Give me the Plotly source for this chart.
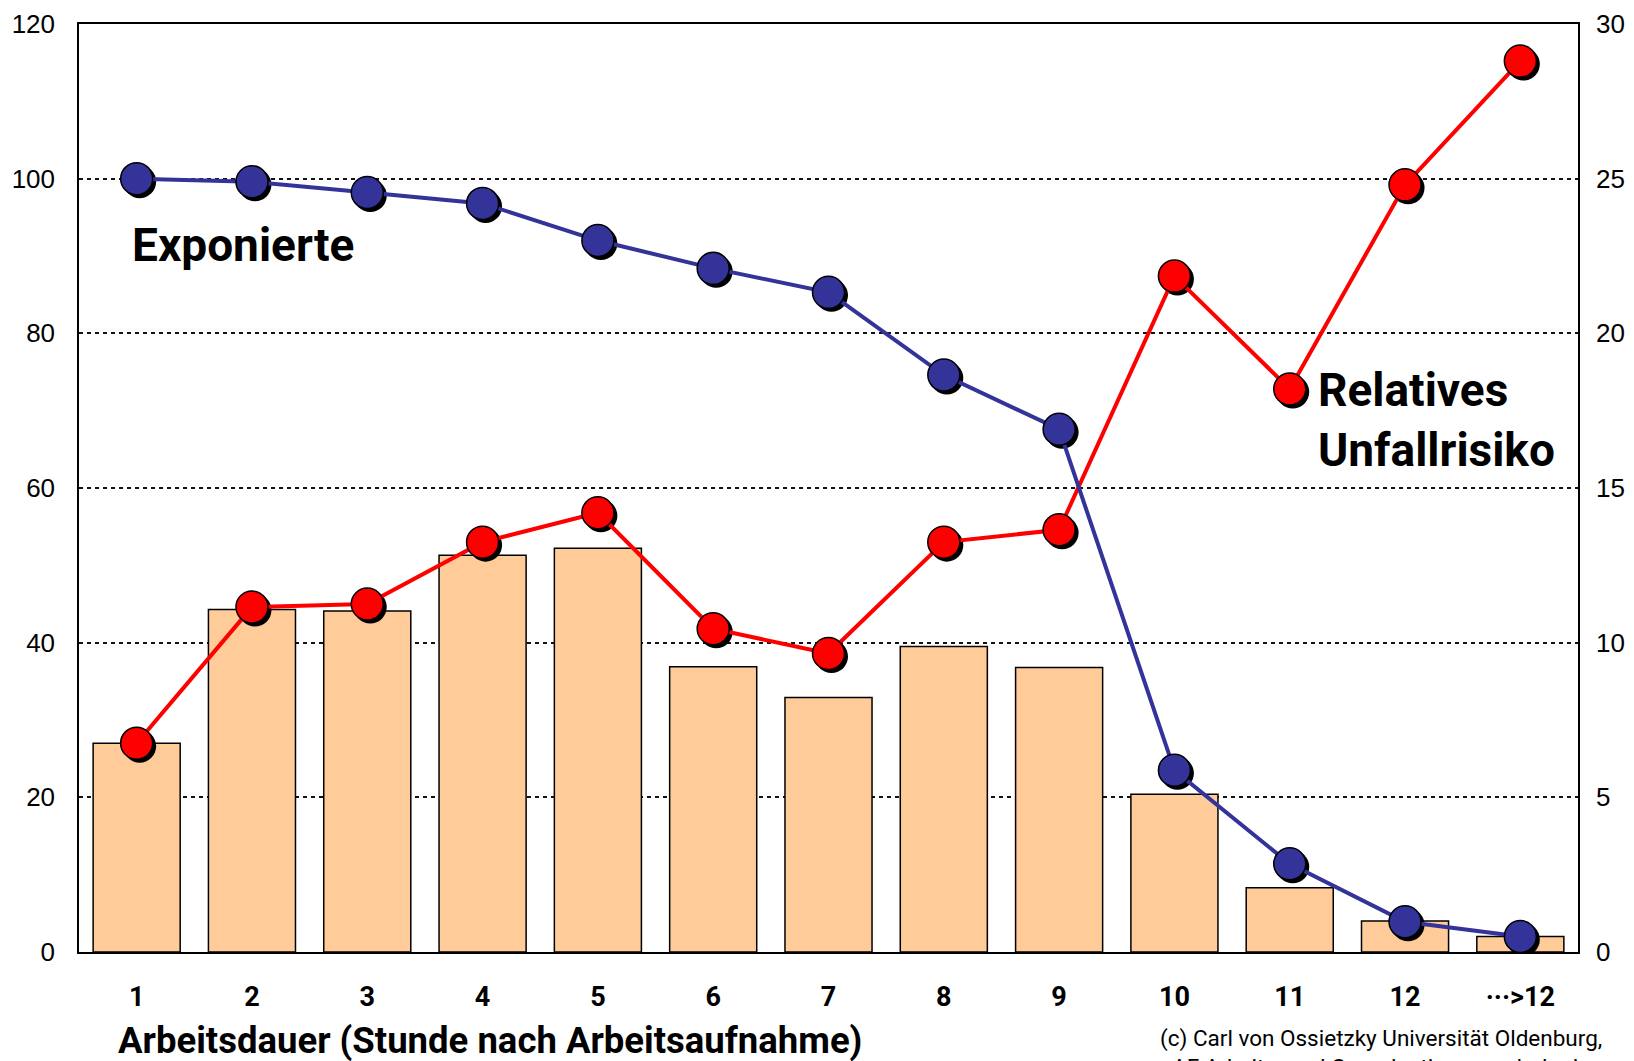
import plotly.graph_objects as go

# ---- data ----
hours = ["1", "2", "3", "4", "5", "6", "7", "8", "9", "10", "11", "12", "···>12"]
bar_values = [27.0, 44.3, 44.1, 51.3, 52.2, 36.9, 32.9, 39.5, 36.8, 20.4, 8.3, 4.0, 2.0]
exponierte = [100.0, 99.6, 98.2, 96.8, 92.0, 88.4, 85.3, 74.6, 67.6, 23.5, 11.4, 3.9, 2.0]
unfallrisiko = [6.75, 11.15, 11.25, 13.25, 14.2, 10.45, 9.65, 13.25, 13.65, 21.85, 18.2, 24.8, 28.8]

left_ticks = [0, 20, 40, 60, 80, 100, 120]
right_ticks = [0, 5, 10, 15, 20, 25, 30]

# ---- layout constants ----
OFF = 8                      # default page body margin around the figure
W, H = 1634 - OFF, 1061 - OFF
ML, MR, MT, MB = 79 - OFF, 56, 24 - OFF, 109
PW = W - ML - MR
PH = H - MT - MB
n = len(hours)
px_per_cat = PW / n
shadow_dx, shadow_dy = 3, 3

BLUE = "#333399"
RED = "#FF0000"
BAR = "#FFCC99"
TICKFONT = dict(family="Liberation Sans, Arial, sans-serif", size=26, color="black")
BOLD = "Roboto, Noto Sans, sans-serif"

fig = go.Figure()

# bars (left axis)
fig.add_trace(go.Bar(x=hours, y=bar_values, marker=dict(color=BAR, line=dict(color="black", width=1.5)),
                     xaxis="x", yaxis="y", showlegend=False, hoverinfo="skip"))

# shadows of markers (shifted hidden axes)
fig.add_trace(go.Scatter(x=hours, y=exponierte, mode="markers",
                         marker=dict(size=33, color="black"),
                         xaxis="x2", yaxis="y3", showlegend=False, hoverinfo="skip"))
fig.add_trace(go.Scatter(x=hours, y=unfallrisiko, mode="markers",
                         marker=dict(size=33, color="black"),
                         xaxis="x2", yaxis="y4", showlegend=False, hoverinfo="skip"))

# main lines
fig.add_trace(go.Scatter(x=hours, y=exponierte, mode="lines+markers", name="Exponierte",
                         line=dict(color=BLUE, width=4),
                         marker=dict(size=32, color=BLUE, line=dict(color="black", width=1.5)),
                         xaxis="x3", yaxis="y5", showlegend=False))
fig.add_trace(go.Scatter(x=hours, y=unfallrisiko, mode="lines+markers", name="Relatives Unfallrisiko",
                         line=dict(color=RED, width=4),
                         marker=dict(size=32, color=RED, line=dict(color="black", width=1.5)),
                         xaxis="x3", yaxis="y2", showlegend=False))

cat_range = [-0.5, n - 0.5]
dcat = shadow_dx / px_per_cat
dl = shadow_dy / (PH / 120)
dr = shadow_dy / (PH / 30)

hidden = dict(visible=False, showgrid=False, zeroline=False, fixedrange=True, automargin=False)

fig.update_layout(
    width=W, height=H,
    margin=dict(l=ML, r=MR, t=MT, b=MB, autoexpand=False),
    paper_bgcolor="white", plot_bgcolor="white",
    bargap=0.245,
    showlegend=False,
    xaxis=dict(type="category", range=cat_range, showgrid=False, zeroline=False, automargin=False,
               showline=True, linecolor="black", linewidth=1.5, mirror=True,
               ticks="", ticklabelstandoff=20,
               tickfont=dict(family=BOLD, size=27, color="black", weight="bold")),
    xaxis2=dict(type="category", overlaying="x", range=[cat_range[0] - dcat, cat_range[1] - dcat], **hidden),
    xaxis3=dict(type="category", overlaying="x", range=cat_range, **hidden),
    yaxis=dict(range=[0, 120], tickvals=left_ticks, showgrid=True, gridcolor="#111111", gridwidth=1.5,
               griddash="4px,4px", zeroline=False, automargin=False,
               showline=True, linecolor="black", linewidth=1.5, mirror=True,
               ticks="", ticklabelstandoff=17, tickfont=TICKFONT),
    yaxis2=dict(range=[0, 30], tickvals=right_ticks, overlaying="y", side="right", anchor="x3",
                showgrid=False, zeroline=False, automargin=False,
                ticks="", ticklabelstandoff=17, tickfont=TICKFONT),
    yaxis3=dict(range=[dl, 120 + dl], overlaying="y", anchor="x2", **hidden),
    yaxis4=dict(range=[dr, 30 + dr], overlaying="y", anchor="x2", **hidden),
    yaxis5=dict(range=[0, 120], overlaying="y", anchor="x3", **hidden),
)

def px_x(x):
    # page pixel -> paper fraction
    return (x - OFF - ML) / PW

def px_y(y):
    return (MT + PH - (y - OFF)) / PH

fig.add_annotation(text="<b>Exponierte</b>", xref="paper", yref="paper",
                   x=px_x(130), y=px_y(245), xanchor="left", yanchor="middle", showarrow=False,
                   font=dict(family=BOLD, size=46, color="black"))
fig.add_annotation(text="<b>Relatives<br>Unfallrisiko</b>", xref="paper", yref="paper",
                   x=px_x(1316), y=px_y(420), xanchor="left", yanchor="middle", align="left",
                   showarrow=False, font=dict(family=BOLD, size=46, color="black"))
fig.add_annotation(text="<b>Arbeitsdauer (Stunde nach Arbeitsaufnahme)</b>", xref="paper", yref="paper",
                   x=px_x(116), y=px_y(1040), xanchor="left", yanchor="middle", showarrow=False,
                   font=dict(family=BOLD, size=36.5, color="black"))
fig.add_annotation(text="(c) Carl von Ossietzky Universität Oldenburg,<br>AF Arbeits- und Organisationspsychologie",
                   xref="paper", yref="paper", x=px_x(1381), y=px_y(1052), xanchor="center", yanchor="middle",
                   align="center", showarrow=False,
                   font=dict(family="Roboto, sans-serif", size=22.5, color="black"))

fig.write_html("out.html")
